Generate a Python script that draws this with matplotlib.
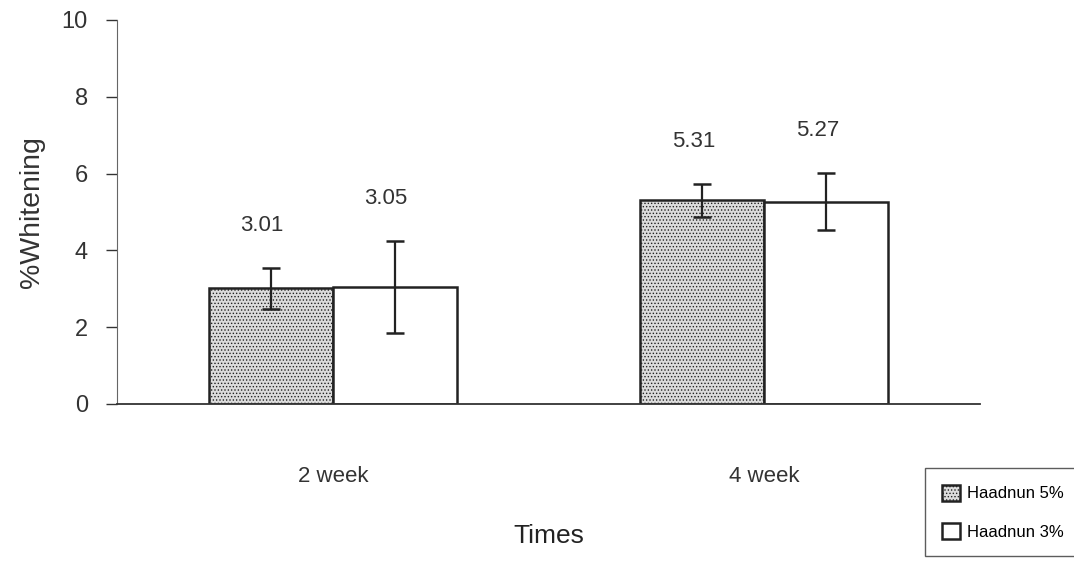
import numpy as np
import matplotlib.pyplot as plt

times = ['2 week', '4 week']
series = ['Haadnun 5%', 'Haadnun 3%']
vals_5 = [3.01, 5.31]
vals_3 = [3.05, 5.27]
err_5 = [0.53, 0.43]
err_3 = [1.20, 0.74]

plt.rcParams['font.family'] = ['Liberation Sans', 'DejaVu Sans']
plt.rcParams['hatch.linewidth'] = 0.6
plt.rcParams['hatch.color'] = '#555555'

fig = plt.figure(figsize=(10.74, 5.61), dpi=100)
ax = fig.add_axes([117/1074, 1-404/561, (980-117)/1074, (404-20)/561])

x = np.arange(len(times))
w = 0.287
b1 = ax.bar(x - w/2, vals_5, w, color='#dcdcdc', edgecolor='#222222',
            linewidth=1.8, hatch='.....', label=series[0])
b2 = ax.bar(x + w/2, vals_3, w, color='white', edgecolor='#222222',
            linewidth=1.8, label=series[1])
ax.errorbar(x - w/2, vals_5, yerr=err_5, fmt='none', ecolor='#222222',
            elinewidth=1.6, capsize=6.5, capthick=1.8)
ax.errorbar(x + w/2, vals_3, yerr=err_3, fmt='none', ecolor='#222222',
            elinewidth=1.6, capsize=6.5, capthick=1.8)

# value labels above the error bars
for xs, vs, es in [(x - w/2, vals_5, err_5), (x + w/2, vals_3, err_3)]:
    for xi, v, e in zip(xs, vs, es):
        ax.text(xi - 0.02, v + e + 1.1, f'{v:.2f}', ha='center', va='center',
                fontsize=16, color='#333333')

ax.set_xlim(-0.5, 1.5)
ax.set_ylim(0, 10)
ax.set_yticks([0, 2, 4, 6, 8, 10])
ax.set_xticks(x)
ax.set_xticklabels(times)
ax.tick_params(axis='x', length=0, pad=45, labelsize=16, colors='#333333')
ax.tick_params(axis='y', length=8, width=1, pad=13, labelsize=17,
               colors='#333333')
for s in ['top', 'right']:
    ax.spines[s].set_visible(False)
ax.spines['left'].set_color('#666666')
ax.spines['bottom'].set_color('#333333')
ax.spines['bottom'].set_linewidth(1.3)

ax.set_ylabel('%Whitening', fontsize=20.5, labelpad=12, color='#333333')
ax.set_xlabel('Times', fontsize=19, labelpad=26, color='#222222')

leg = fig.legend(handles=[b1, b2], loc='upper left',
                 bbox_to_anchor=(925/1074, 1-468/561), fontsize=12,
                 frameon=True, fancybox=False, edgecolor='#333333',
                 handlelength=1.1, handleheight=1.1, borderpad=1.0,
                 borderaxespad=0, labelspacing=1.3, handletextpad=0.4)
leg.get_frame().set_linewidth(1.0)

fig.savefig('out.png', dpi=100)
